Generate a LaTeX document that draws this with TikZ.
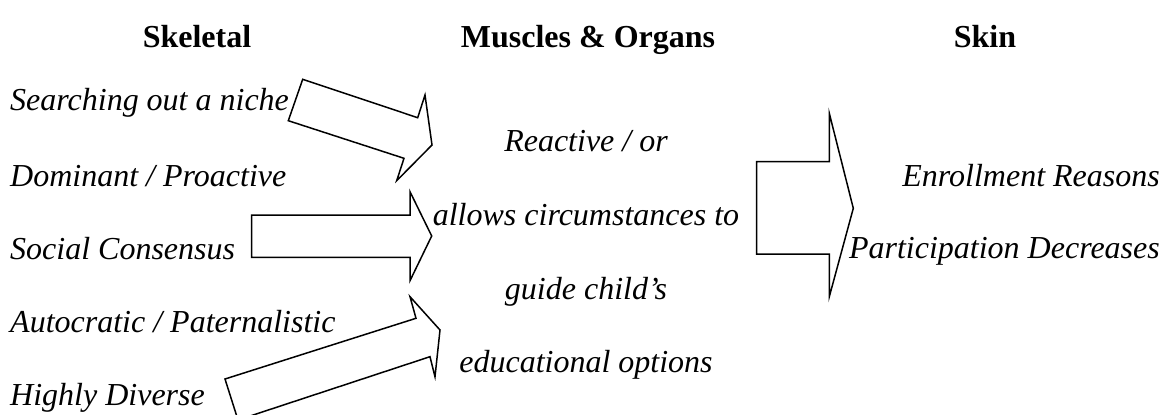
\documentclass[tikz,border=0pt]{standalone}
\usepackage{fontspec}
\setmainfont{Liberation Serif}
\begin{document}
\begin{tikzpicture}[x=1pt,y=-1pt,
  txt/.style={inner sep=0pt,font=\fontsize{32}{38}\selectfont\itshape},
  head/.style={inner sep=0pt,font=\fontsize{32}{38}\selectfont\bfseries},
  blockarrow/.style={draw=black,line width=1.5pt,line join=miter,fill=white}]
\useasboundingbox (0,0) rectangle (1171,415);
\clip (0,0) rectangle (1171,415);

% column headings
\node[head,anchor=base] (hskel) at (197,47) {Skeletal};
\node[head,anchor=base] (hmusc) at (588,47) {Muscles \& Organs};
\node[head,anchor=base] (hskin) at (985,47) {Skin};

% left column
\node[txt,anchor=base west] (l1) at (10,110) {Searching out a niche};
\node[txt,anchor=base west] (l2) at (10,186) {Dominant / Proactive};
\node[txt,anchor=base west] (l3) at (10,259) {Social Consensus};
\node[txt,anchor=base west] (l4) at (10,332) {Autocratic / Paternalistic};
\node[txt,anchor=base west] (l5) at (10,405) {Highly Diverse};

% middle column
\node[txt,anchor=base] (m1) at (586,151.5) {Reactive / or};
\node[txt,anchor=base] (m2) at (586,225) {allows circumstances to};
\node[txt,anchor=base] (m3) at (586,299) {guide child’s};
\node[txt,anchor=base] (m4) at (586,372) {educational options};

% right column
\node[txt,anchor=base east] (r1) at (1160,186) {Enrollment Reasons};
\node[txt,anchor=base east] (r2) at (1160,258) {Participation Decreases};

% block arrows
\draw[blockarrow] (302.7,79.3) -- (417.7,117.7) -- (425,95) -- (432,145)
  -- (396.7,180.7) -- (404,158.3) -- (288.3,120.7) -- cycle;
\draw[blockarrow] (251.7,215) -- (410,215) -- (410,191.7) -- (431.7,236)
  -- (410,280.7) -- (410,257.3) -- (251.7,257.3) -- cycle;
\draw[blockarrow] (225,379) -- (416,318.3) -- (410,296.7) -- (440,330)
  -- (435,376.7) -- (430,356.7) -- (238,420) -- cycle;
\draw[blockarrow] (756.7,161.7) -- (829.3,161.7) -- (829.3,113.3) -- (853.3,208.3)
  -- (829.3,296.7) -- (829.3,254) -- (756.7,254) -- cycle;
\end{tikzpicture}
\end{document}
